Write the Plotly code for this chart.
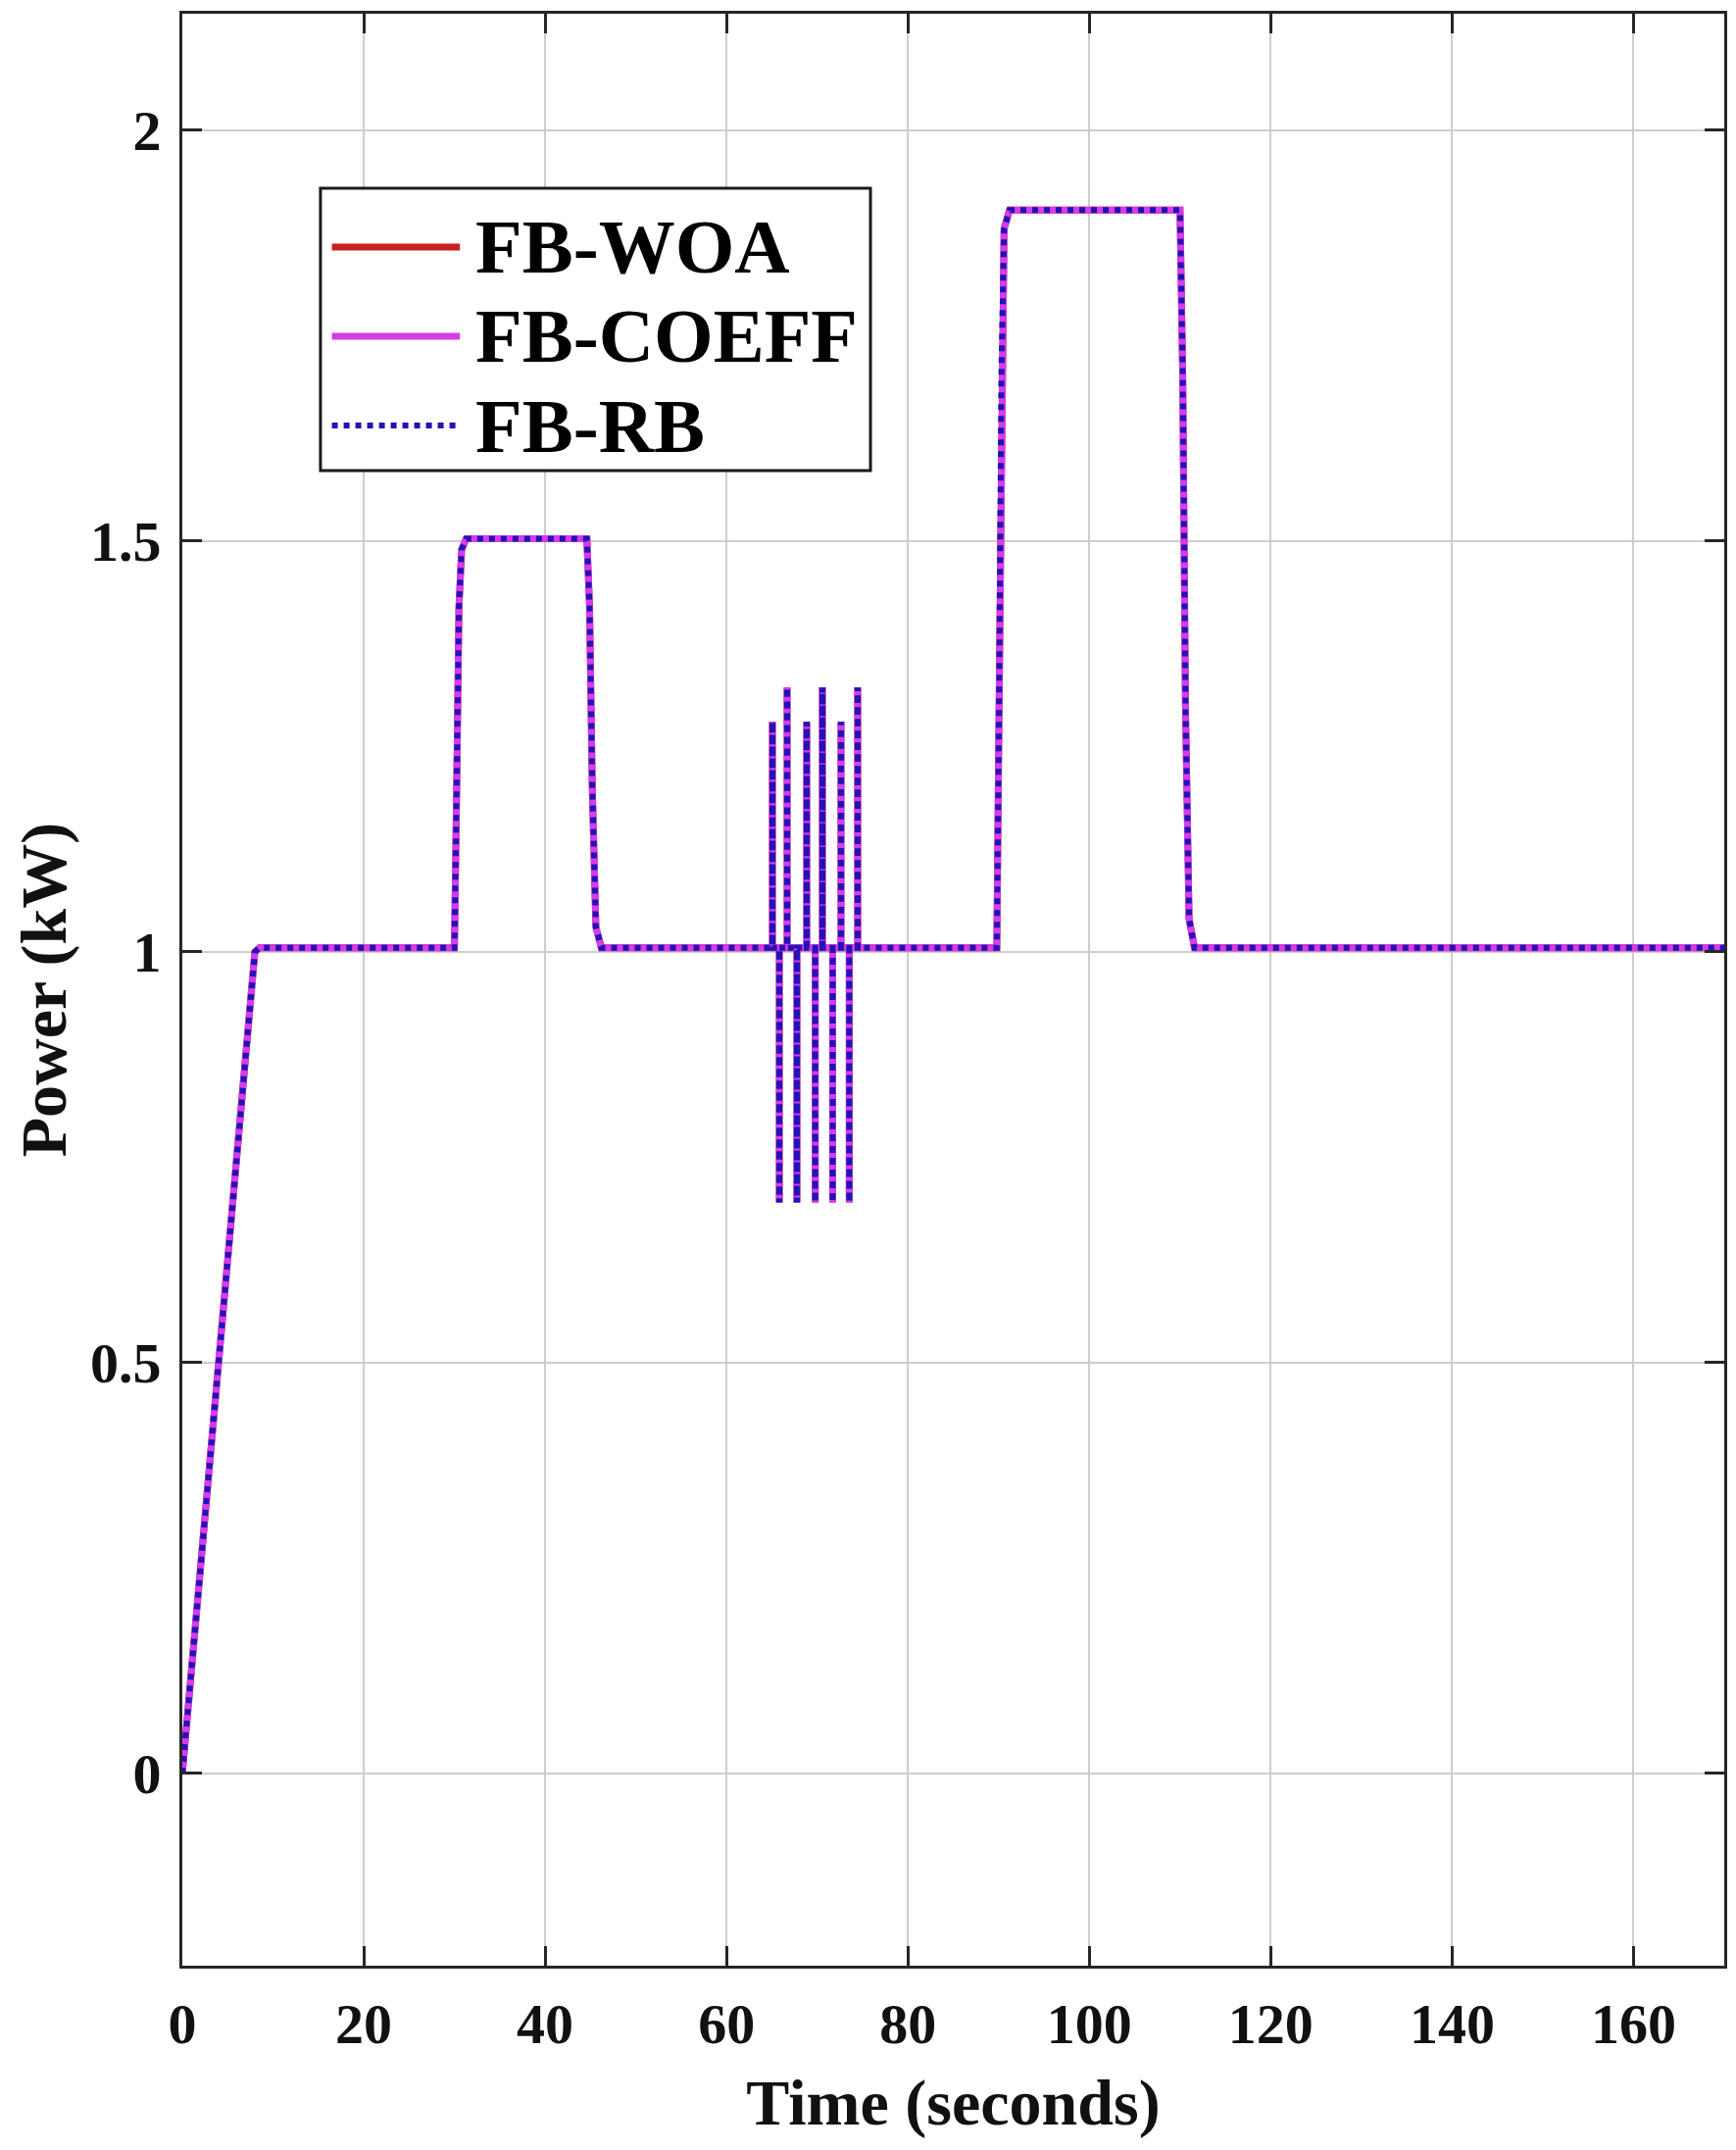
import plotly.graph_objects as go

# ---- data ----
# base profile (time in s, power in kW) before the oscillation window
t_base_a = [0, 8.0, 8.5, 30.0, 30.25, 30.5, 30.8, 31.3, 44.6, 44.9, 45.2, 45.6, 46.2, 65.0]
p_base_a = [0, 1.0, 1.005, 1.005, 1.2, 1.42, 1.49, 1.503, 1.503, 1.42, 1.2, 1.03, 1.005, 1.005]

# oscillation spikes (time, peak value)
spike_t = [65.06, 65.82, 66.68, 67.76, 68.84, 69.78, 70.57, 71.70, 72.62, 73.53, 74.46]
spike_p = [1.28, 0.695, 1.322, 0.695, 1.28, 0.695, 1.322, 0.695, 1.28, 0.695, 1.322]

# profile after the oscillation window
t_base_b = [75.0, 89.8, 90.05, 90.3, 90.6, 91.2, 110.0, 110.3, 110.6, 111.0, 111.6, 170.0]
p_base_b = [1.005, 1.005, 1.3, 1.7, 1.88, 1.903, 1.903, 1.7, 1.3, 1.04, 1.005, 1.005]

series_names = ["FB-WOA", "FB-COEFF", "FB-RB"]
series_colors = ["#c8201e", "#d63ce6", "#2212b8"]

x_ticks = [0, 20, 40, 60, 80, 100, 120, 140, 160]
y_ticks = [0, 0.5, 1, 1.5, 2]

# assemble the curve (all three controllers overlap in the reference)
t_curve = list(t_base_a)
p_curve = list(p_base_a)
for ts, ps in zip(spike_t, spike_p):
    t_curve += [ts, ts, ts]
    p_curve += [1.005, ps, 1.005]
t_curve += t_base_b
p_curve += p_base_b

FONT = "Liberation Serif, Times New Roman, serif"

fig = go.Figure()
styles = [dict(width=7, dash="solid"), dict(width=7, dash="solid"), dict(width=6, dash="dot")]
for name, col, st in zip(series_names, series_colors, styles):
    fig.add_trace(go.Scatter(x=t_curve, y=p_curve, mode="lines", name=name,
                             line=dict(color=col, width=st["width"], dash=st["dash"]),
                             showlegend=False))

axis_common = dict(
    showgrid=True, gridcolor="#cdcdcd", gridwidth=2,
    showline=True, linecolor="#262626", linewidth=3, mirror="ticks",
    ticks="inside", ticklen=20, tickwidth=3, tickcolor="#262626",
    zeroline=False, automargin=False,
    tickfont=dict(family=FONT, size=58, color="#111111", weight="bold"),
)

fig.update_layout(
    width=1771, height=2193,
    margin=dict(l=178, r=20, t=6, b=196),
    paper_bgcolor="white", plot_bgcolor="white",
    xaxis=dict(range=[0, 170], tickvals=x_ticks, ticklabelstandoff=6,
               title=dict(text="Time (seconds)", standoff=26,
                          font=dict(family=FONT, size=66, color="#111111", weight="bold")),
               **axis_common),
    yaxis=dict(range=[-0.234, 2.142], tickvals=y_ticks, ticklabelstandoff=7,
               title=dict(text="Power (kW)", standoff=42,
                          font=dict(family=FONT, size=66, color="#111111", weight="bold")),
               **axis_common),
)

# custom legend (long line samples like the MATLAB legend)
lx0, lx1, ly0, ly1 = 0.0896, 0.4463, 0.766, 0.9106
fig.add_shape(type="rect", xref="paper", yref="paper", x0=lx0, x1=lx1, y0=ly0, y1=ly1,
              line=dict(color="#1a1a1a", width=3), fillcolor="white", layer="above")
rows = [0.8805, 0.8348, 0.789]
for name, col, st, ry in zip(series_names, series_colors, styles, rows):
    fig.add_shape(type="line", xref="paper", yref="paper", x0=0.097, x1=0.180, y0=ry, y1=ry,
                  line=dict(color=col, width=st["width"], dash=st["dash"]), layer="above")
    fig.add_annotation(xref="paper", yref="paper", x=0.1885, y=ry, text=name, showarrow=False,
                       xanchor="left", yanchor="middle",
                       font=dict(family=FONT, size=78, color="black", weight="bold"))

fig.write_html("out.html")
